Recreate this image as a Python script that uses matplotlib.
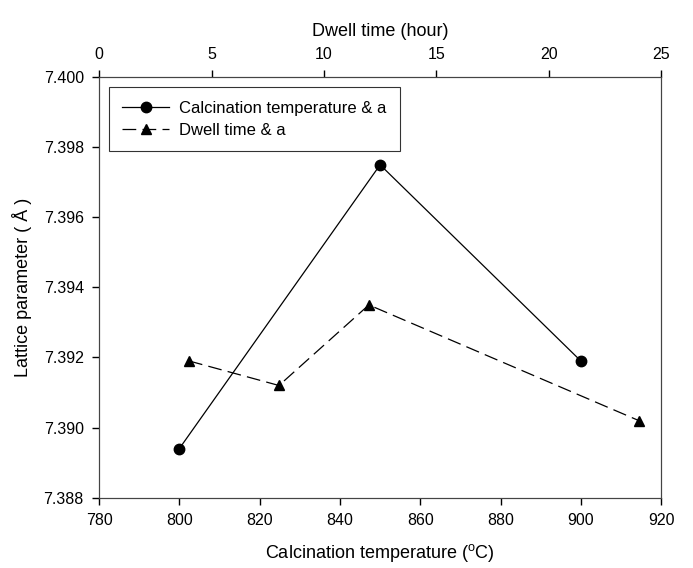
import matplotlib as mpl
mpl.use('Agg')
import matplotlib.pyplot as plt

plt.rcParams['font.family'] = ['Liberation Sans', 'DejaVu Sans']

# data
calc_temp = [800, 850, 900]
calc_a = [7.3894, 7.3975, 7.3919]
dwell_time = [4, 8, 12, 24]
dwell_a = [7.3919, 7.3912, 7.3935, 7.3902]

x_ticks = [780, 800, 820, 840, 860, 880, 900, 920]
top_ticks = [0, 5, 10, 15, 20, 25]
y_ticks = [7.388, 7.390, 7.392, 7.394, 7.396, 7.398, 7.400]

fig = plt.figure(figsize=(6.93, 5.68), dpi=100)
ax = fig.add_axes([0.143, 0.124, 0.811, 0.740])
ax2 = ax.twiny()

l1, = ax.plot(calc_temp, calc_a, color='black', lw=0.9, marker='o', ms=7.5,
              label='Calcination temperature & a')
l2, = ax2.plot(dwell_time, dwell_a, color='black', lw=0.9, ls=(0, (11, 5)),
               marker='^', ms=7.5, label='Dwell time & a')

ax.set_xlim(780, 920)
ax.set_ylim(7.388, 7.400)
ax2.set_xlim(0, 25)
ax.set_xticks(x_ticks)
ax.set_yticks(y_ticks)
ax.set_yticklabels([f'{v:.3f}' for v in y_ticks])
ax2.set_xticks(top_ticks)

for a in (ax, ax2):
    a.tick_params(direction='out', length=5, width=1, labelsize=11.5, pad=6)
    for s in a.spines.values():
        s.set_color('#444444')
ax.tick_params(right=False)

ax.set_xlabel('Calcination temperature ($\\mathregular{^oC}$)', fontsize=13, labelpad=10)
ax.set_ylabel('Lattice parameter ( Å )', fontsize=13, labelpad=8)
ax2.set_xlabel('Dwell time (hour)', fontsize=13, labelpad=8)

leg = ax.legend(handles=[l1, l2], loc='upper left', fontsize=12, frameon=True,
                fancybox=False, edgecolor='black', handlelength=2.8,
                borderpad=0.8, labelspacing=0.45, handletextpad=0.6,
                borderaxespad=0.6)
leg.get_frame().set_linewidth(0.8)

fig.savefig('out.png', dpi=100)
